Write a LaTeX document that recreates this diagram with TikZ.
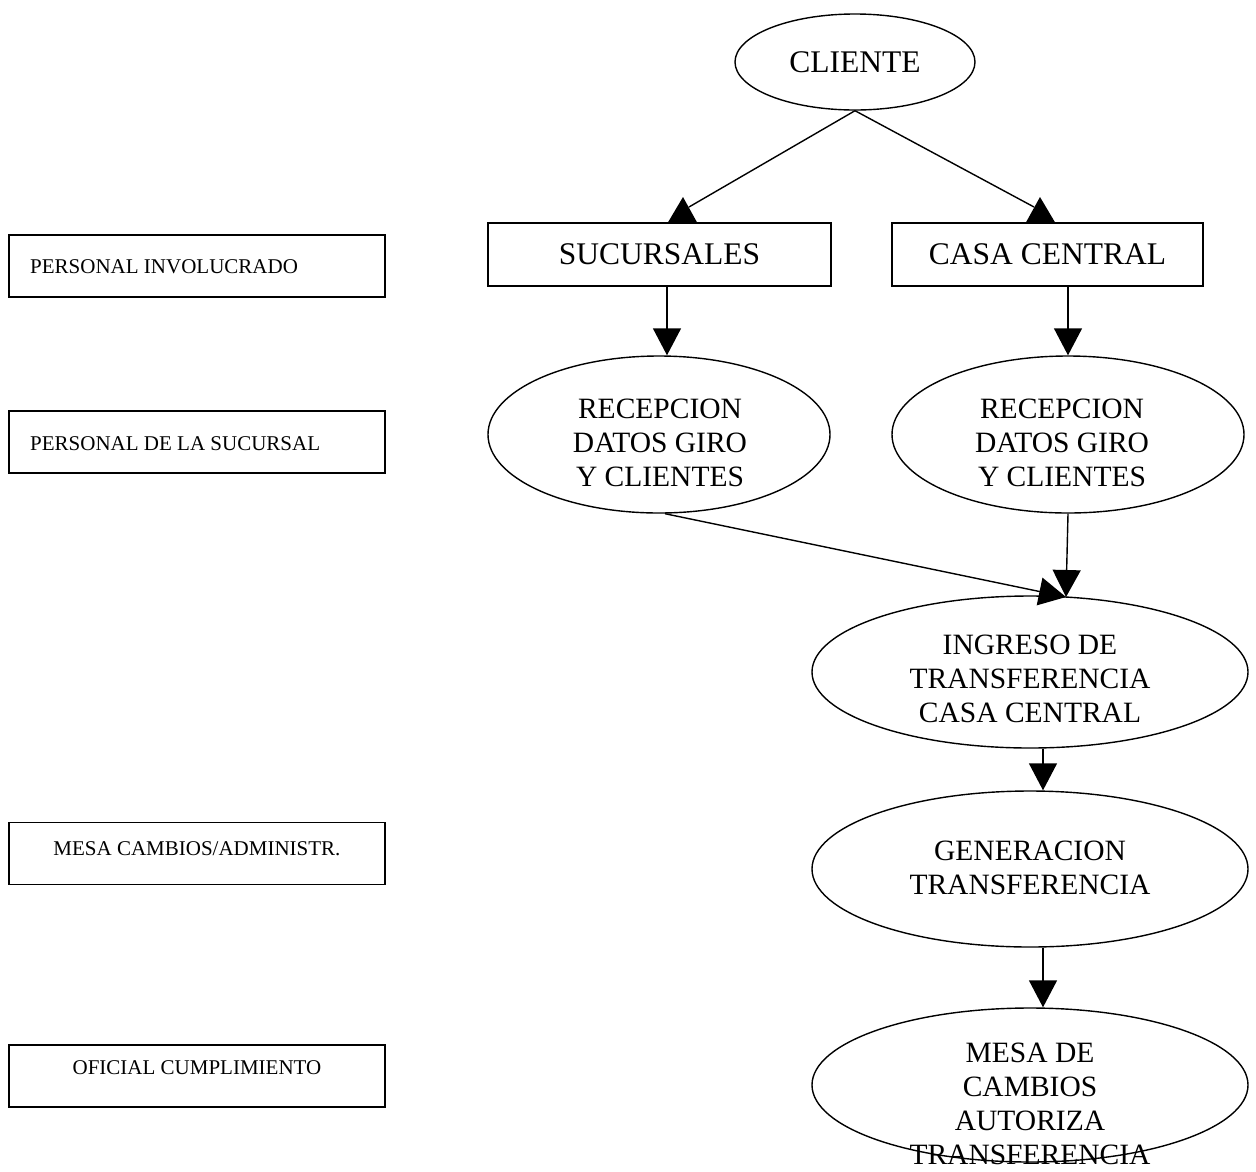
\documentclass[tikz,border=0pt]{standalone}
\usepackage{fontspec}
\setmainfont{Liberation Serif}
\usetikzlibrary{arrows.meta,shapes.geometric,calc}
\begin{document}
\begin{tikzpicture}[x=1pt,y=-1pt,
  lw/.style={line width=1.4pt},
  proc/.style={lw,draw,ellipse,inner sep=0pt},
  bigbox/.style={lw,draw,rectangle,inner sep=0pt,font=\fontsize{31.5}{34}\selectfont},
  ptxt/.style={align=center,inner sep=0pt,font=\fontsize{29.5}{34}\selectfont},
  sidebox/.style={lw,draw,rectangle,inner sep=0pt,minimum width=376pt,minimum height=62pt},
  stxt/.style={inner sep=0pt,font=\fontsize{21}{24}\selectfont},
  arr/.style={lw,-{Triangle[width=28pt,length=27pt]}},
  uptip/.style={fill=black}
]
\useasboundingbox (0,0) rectangle (1256,1171);

% side labels
\node[sidebox] (s1) at (197,266) {};
\node[stxt,anchor=west] (s1t) at (30,267) {PERSONAL INVOLUCRADO};
\node[sidebox] (s2) at (197,442) {};
\node[stxt,anchor=west] (s2t) at (30,444) {PERSONAL DE LA SUCURSAL};
\node[sidebox] (s3) at (197,853.5) {};
\node[stxt] (s3t) at (197,849) {MESA CAMBIOS/ADMINISTR.};
\node[sidebox] (s4) at (197,1076) {};
\node[stxt] (s4t) at (197,1068) {OFICIAL CUMPLIMIENTO};

% main flow
\node[proc,minimum width=240pt,minimum height=96pt,font=\fontsize{31.5}{34}\selectfont] (cli) at (855,62) {CLIENTE};
\node[bigbox,minimum width=343pt,minimum height=63pt] (suc) at (659.5,254.5) {SUCURSALES};
\node[bigbox,minimum width=311pt,minimum height=63pt] (cc) at (1047.5,254.5) {CASA CENTRAL};

\node[proc,minimum width=342pt,minimum height=157pt] (rec1) at (659,434.5) {};
\node[ptxt] (rec1t) at (660,443) {RECEPCION\\DATOS GIRO\\Y CLIENTES};
\node[proc,minimum width=352pt,minimum height=157pt] (rec2) at (1068,434.5) {};
\node[ptxt] (rec2t) at (1062,443) {RECEPCION\\DATOS GIRO\\Y CLIENTES};

\node[proc,minimum width=436pt,minimum height=152pt] (ing) at (1030,672) {};
\node[ptxt] (ingt) at (1030,679) {INGRESO DE\\TRANSFERENCIA\\CASA CENTRAL};
\node[proc,minimum width=436pt,minimum height=156pt] (gen) at (1030,869) {};
\node[ptxt] (gent) at (1030,868) {GENERACION\\TRANSFERENCIA};
\node[proc,minimum width=436pt,minimum height=154pt] (mesa) at (1030,1085) {};
\node[ptxt] (mesat) at (1030,1104) {MESA DE\\CAMBIOS\\AUTORIZA\\TRANSFERENCIA};

% connectors from CLIENTE (arrowheads drawn upright on the box tops)
\coordinate (ta) at (683,197);
\coordinate (tb) at (1040,197);
\draw[lw] (cli.south) -- ($(ta)+(6,10)$);
\fill[uptip] (ta) -- ([xshift=-15pt]ta |- suc.north) -- ([xshift=14pt]ta |- suc.north) -- cycle;
\draw[lw] (cli.south) -- ($(tb)+(-6,10)$);
\fill[uptip] (tb) -- ([xshift=-14pt]tb |- cc.north) -- ([xshift=15pt]tb |- cc.north) -- cycle;

% vertical arrows
\draw[arr] (667,0 |- suc.south) -- (667,0 |- rec1.north);
\draw[arr] (1068,0 |- cc.south) -- (1068,0 |- rec2.north);
\coordinate (ingtop) at (1066,597);
\draw[arr] ([xshift=6pt]rec1.south) -- (ingtop);
\draw[arr] (rec2.south) -- (ingtop);
\draw[arr] ([xshift=13pt]ing.south) -- ([xshift=13pt]gen.north);
\draw[arr] ([xshift=13pt]gen.south) -- ([xshift=13pt]mesa.north);
\end{tikzpicture}
\end{document}
